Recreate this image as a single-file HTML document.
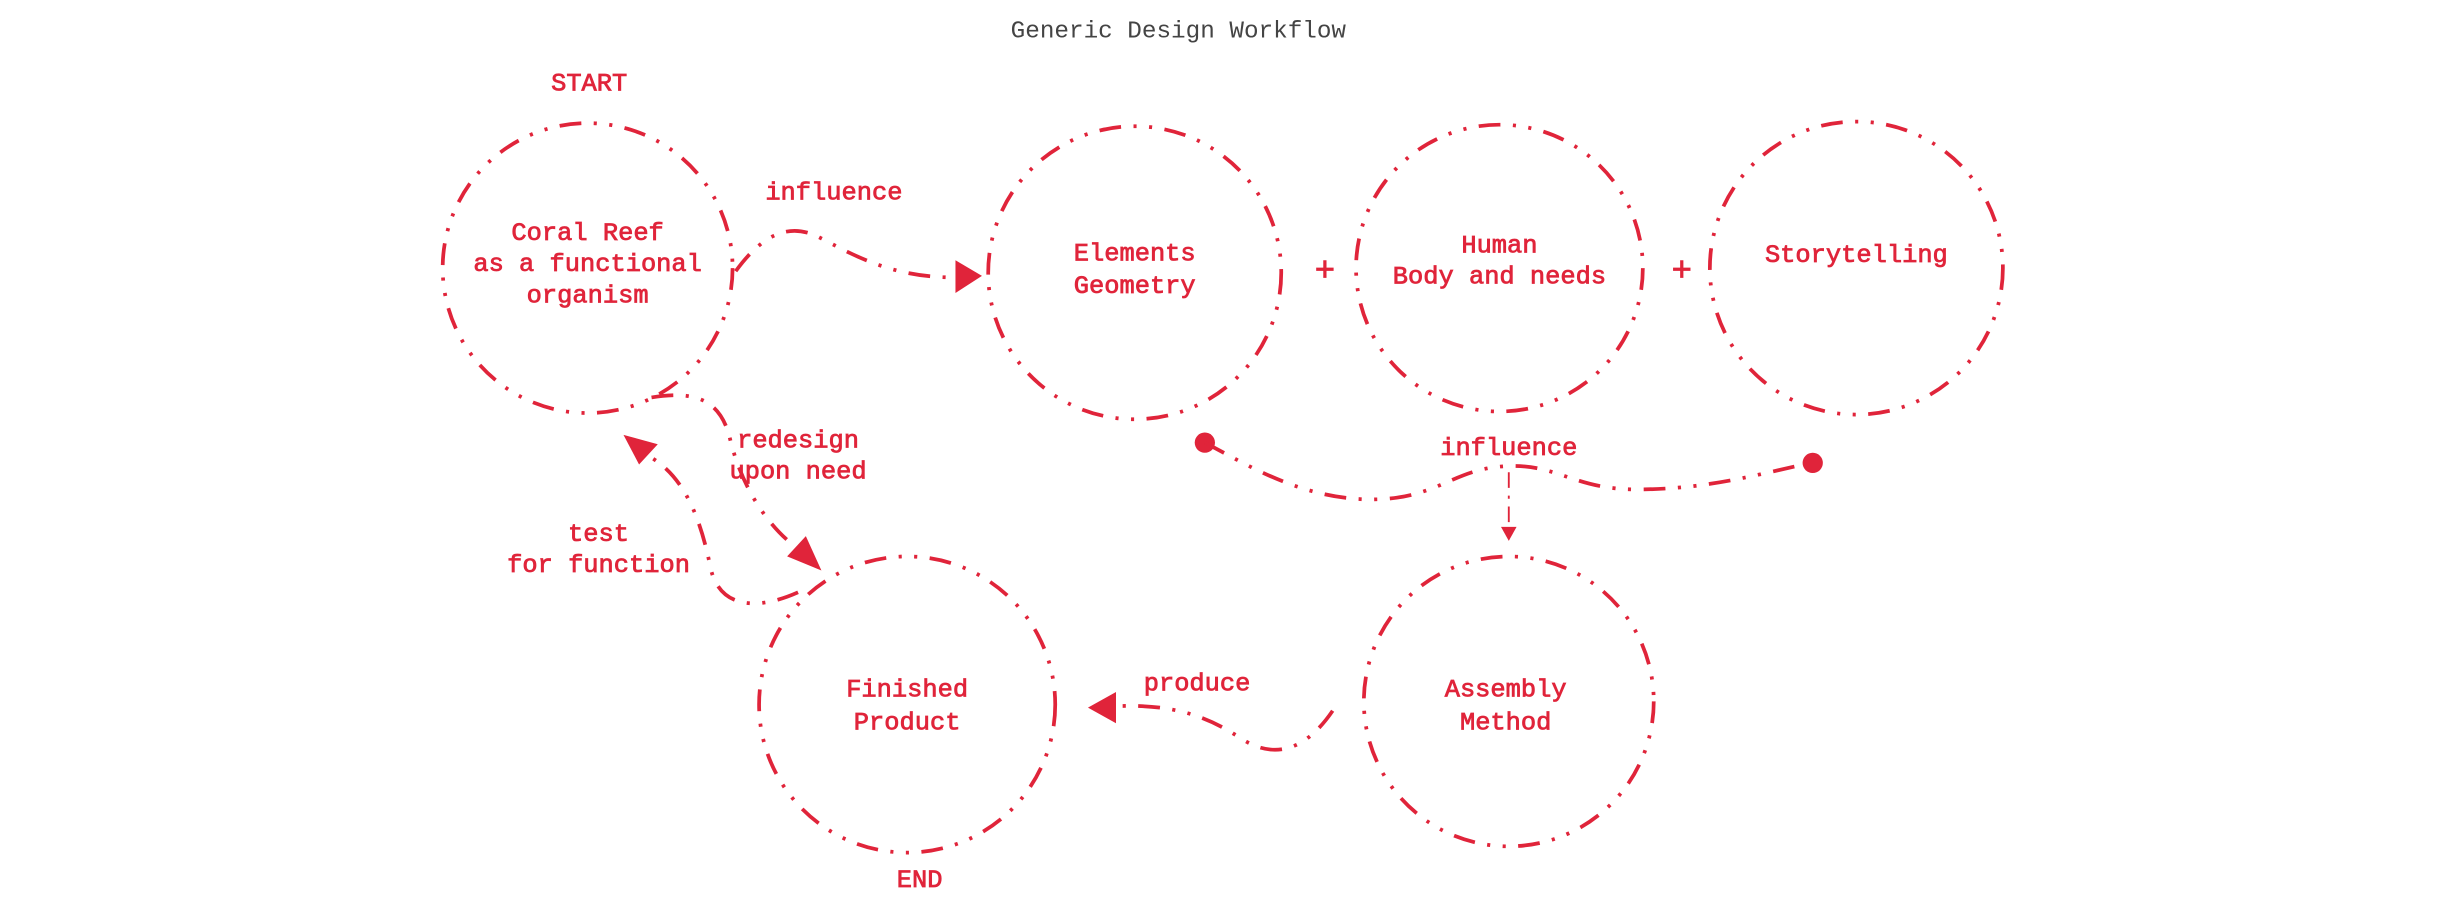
<!DOCTYPE html>
<html><head><meta charset="utf-8"><style>
html,body{margin:0;padding:0;background:#fff;}
svg{display:block}
text{font-family:"Liberation Mono",monospace;fill:#e0243a;font-size:16.3px;text-anchor:middle;stroke:#e0243a;stroke-width:0.5}
.c{fill:none;stroke:#e0243a;stroke-width:2.4;stroke-dasharray:14 8 2 8 2 8}
.l{fill:none;stroke:#e0243a;stroke-width:2.4;stroke-dasharray:14 8 2 8 2 8}
.a{fill:#e0243a;stroke:none}
</style></head><body>
<svg width="2444" height="897" viewBox="0 0 1568 575.5" xmlns="http://www.w3.org/2000/svg">
<text x="756" y="24" style="fill:#444;stroke:none;font-size:15.6px">Generic Design Workflow</text>
<text x="378" y="58">START</text>
<text x="590" y="569">END</text>

<circle class="c" cx="377" cy="172" r="93"/>
<circle class="c" cx="728" cy="175" r="94"/>
<circle class="c" cx="962" cy="172" r="92"/>
<circle class="c" cx="1191" cy="172" r="94"/>
<circle class="c" cx="582" cy="452" r="95"/>
<circle class="c" cx="968" cy="450" r="93"/>

<text x="377" y="154">Coral Reef</text>
<text x="377" y="174">as a functional</text>
<text x="377" y="194">organism</text>
<text x="728" y="167">Elements</text>
<text x="728" y="188">Geometry</text>
<text x="962" y="162">Human</text>
<text x="962" y="182">Body and needs</text>
<text x="1191" y="168">Storytelling</text>
<text x="582" y="447">Finished</text>
<text x="582" y="468">Product</text>
<text x="966" y="447">Assembly</text>
<text x="966" y="468">Method</text>

<text x="850" y="180" style="font-size:22px">+</text>
<text x="1079" y="180" style="font-size:22px">+</text>

<text x="535" y="128">influence</text>
<text x="968" y="292">influence</text>
<text x="512" y="287">redesign</text>
<text x="512" y="307">upon need</text>
<text x="384" y="347">test</text>
<text x="384" y="367">for function</text>
<text x="768" y="443">produce</text>

<path class="l" d="M472,174 C488,152 505,142 525,152 C545,162 570,178 612,178"/>
<polygon class="a" points="630,177 613,167 613,188"/>

<circle class="a" cx="773" cy="284" r="6.5"/>
<circle class="a" cx="1163" cy="297" r="6.5"/>
<path class="l" d="M773,284 C800,298 840,324 890,320 C925,317 935,300 968,299 C1000,298 1010,314 1050,314 C1100,314 1135,302 1163,297"/>
<path class="l" d="M968,303 L968,338" style="stroke-width:1.2;stroke-dasharray:10 5 2 5"/>
<polygon class="a" points="968,347 963,338 973,338"/>

<path class="l" d="M418,255 C448,250 462,258 468,280 C476,315 495,340 512,352"/>
<polygon class="a" points="527,366 505,357 517,344"/>

<path class="l" d="M512,380 C485,392 462,390 456,365 C450,335 440,305 415,292"/>
<polygon class="a" points="400,279 422,285 410,298"/>

<path class="l" d="M855,456 C840,478 820,490 795,473 C772,458 750,452 718,453"/>
<polygon class="a" points="698,454 716,444 716,464"/>
</svg>
</body></html>
